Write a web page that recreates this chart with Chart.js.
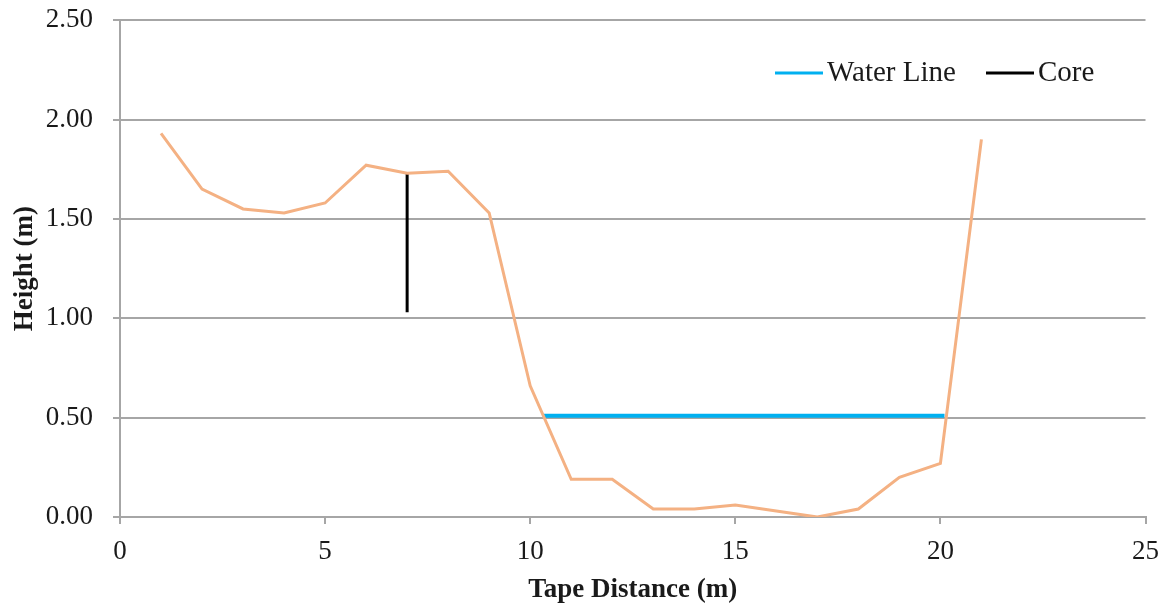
<!DOCTYPE html>
<html>
<head>
<meta charset="utf-8">
<script src="https://cdn.jsdelivr.net/npm/chart.js@4"></script>
<style>
  html, body { margin: 0; padding: 0; background: #fff; }
  #wrap { width: 1171px; height: 611px; }
</style>
</head>
<body>
<div id="wrap"><canvas id="chart" width="1171" height="611"></canvas></div>
<script>
// ── Data ────────────────────────────────────────────────────────────────
const tapeDistance = [1, 2, 3, 4, 5, 6, 7, 8, 9, 10, 11, 12, 13, 14, 15, 16, 17, 18, 19, 20, 21];
const profileHeight = [1.93, 1.65, 1.55, 1.53, 1.58, 1.77, 1.73, 1.74, 1.53, 0.66, 0.19, 0.19, 0.04, 0.04, 0.06, 0.03, 0.0, 0.04, 0.20, 0.27, 1.90];

const waterLineX = [10.31, 20.1];
const waterLineY = [0.51, 0.51];

const coreX = [7, 7];
const coreY = [1.03, 1.73];

const yTicks = [0, 0.5, 1.0, 1.5, 2.0, 2.5];

const toPoints = (xs, ys) => xs.map((x, i) => ({ x: x, y: ys[i] }));

const FONT = "'Liberation Serif', 'Times New Roman', serif";
const GRID = '#A6A6A6';

// ── Legend drawn inside the plot area ───────────────────────────────────
const insideLegend = {
    id: 'insideLegend',
    afterDraw(chart, args, opts) {
        const ctx = chart.ctx;
        ctx.save();
        ctx.font = opts.fontSize + 'px ' + FONT;
        ctx.textBaseline = 'middle';
        ctx.fillStyle = '#1a1a1a';
        opts.items.forEach(function (item) {
            const ds = chart.data.datasets[item.index];
            ctx.strokeStyle = ds.borderColor;
            ctx.lineWidth = 3;
            ctx.beginPath();
            ctx.moveTo(item.x, opts.y);
            ctx.lineTo(item.x + opts.lineLen, opts.y);
            ctx.stroke();
            ctx.fillText(ds.label, item.x + opts.lineLen + 4, opts.y);
        });
        ctx.restore();
    }
};

new Chart(document.getElementById('chart'), {
    type: 'line',
    data: {
        datasets: [
            {
                label: 'Profile',
                data: toPoints(tapeDistance, profileHeight),
                borderColor: '#F4B183',
                borderWidth: 3,
                pointRadius: 0,
                tension: 0
            },
            {
                label: 'Water Line',
                data: toPoints(waterLineX, waterLineY),
                borderColor: '#00B0F0',
                borderWidth: 4,
                pointRadius: 0
            },
            {
                label: 'Core',
                data: toPoints(coreX, coreY),
                borderColor: '#000000',
                borderWidth: 3,
                pointRadius: 0
            }
        ]
    },
    options: {
        responsive: false,
        animation: false,
        layout: { padding: { left: 0, right: 25, top: 0, bottom: 0 } },
        plugins: {
            legend: { display: false },
            tooltip: { enabled: false },
            insideLegend: {
                fontSize: 29,
                y: 73,
                lineLen: 48,
                items: [{ index: 1, x: 775 }, { index: 2, x: 986 }]
            }
        },
        scales: {
            x: {
                type: 'linear',
                min: 0,
                max: 25,
                ticks: {
                    stepSize: 5,
                    color: '#1a1a1a',
                    font: { family: FONT, size: 27 },
                    padding: 12,
                    maxRotation: 0
                },
                grid: {
                    drawOnChartArea: false,
                    drawTicks: true,
                    tickLength: 7,
                    color: GRID,
                    lineWidth: 2
                },
                border: { color: GRID, width: 2 },
                title: {
                    display: true,
                    text: 'Tape Distance (m)',
                    color: '#1a1a1a',
                    font: { family: FONT, size: 27, weight: 'bold' },
                    padding: { top: 2, bottom: 5 }
                },
                afterFit: function (scale) { scale.height = 94; }
            },
            y: {
                min: 0,
                max: 2.5,
                afterBuildTicks: function (scale) {
                    scale.ticks = yTicks.map(v => ({ value: v }));
                },
                ticks: {
                    color: '#1a1a1a',
                    // tiny lineHeight keeps the top label from pushing the plot down
                    font: { family: FONT, size: 27, lineHeight: 0.01 },
                    padding: 20,
                    callback: v => Number(v).toFixed(2)
                },
                grid: {
                    color: GRID,
                    lineWidth: 2,
                    tickLength: 7
                },
                border: { color: GRID, width: 2 },
                title: {
                    display: true,
                    text: 'Height (m)',
                    color: '#1a1a1a',
                    font: { family: FONT, size: 27, weight: 'bold' },
                    padding: { top: 9, bottom: 0 }
                },
                afterFit: function (scale) { scale.width = 120; }
            }
        }
    },
    plugins: [insideLegend]
});
</script>
</body>
</html>
